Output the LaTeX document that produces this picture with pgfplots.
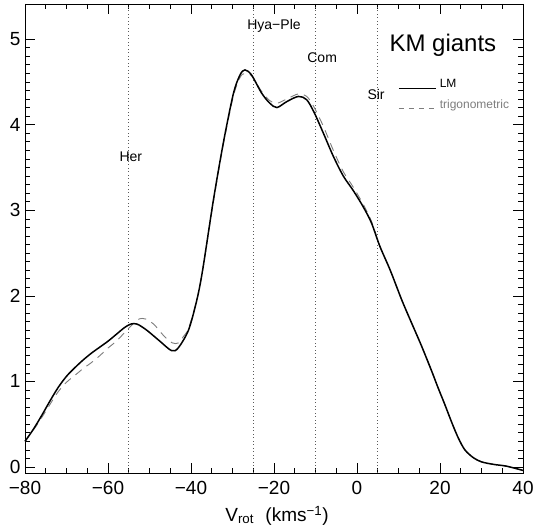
\documentclass[border=0pt]{standalone}
\usepackage{fontspec}
\setmainfont{Liberation Sans}
\usepackage{pgfplots}
\pgfplotsset{compat=1.18}
\definecolor{trig}{RGB}{125,125,125}
\definecolor{dotc}{RGB}{90,90,90}
\begin{document}
\begin{tikzpicture}
\begin{axis}[
  scale only axis, width=498pt, height=469pt,
  xmin=-80, xmax=40, ymin=-0.07, ymax=5.41,
  xtick={-80,-60,-40,-20,0,20,40},
  xticklabels={−80,−60,−40,−20,0,20,40},
  ytick={0,1,2,3,4,5},
  yticklabels={0,1,2,3,4,5},
  minor x tick num=3, minor y tick num=9,
  tick align=inside, major tick length=10pt, minor tick length=5pt,
  tick style={black, line width=0.6pt},
  axis line style={line width=0.8pt},
  tick label style={font=\fontsize{19}{19}\selectfont},
  xticklabel style={yshift=-5pt},
  yticklabel style={xshift=-1pt},
  xlabel={V\textsubscript{rot}\hspace{0.6em}(kms\textsuperscript{−1})},
  xlabel style={font=\fontsize{19}{19}\selectfont, yshift=-4pt, xshift=3pt},
  clip=false,
]
\coordinate (ll) at (rel axis cs:0,0);
\coordinate (ur) at (rel axis cs:1,1);
% dotted reference lines
\addplot[dotc, line width=0.9pt, dash pattern=on 0.9pt off 2.6pt] coordinates {(-55,-0.07) (-55,5.41)};
\addplot[dotc, line width=0.9pt, dash pattern=on 0.9pt off 2.6pt] coordinates {(-25,-0.07) (-25,5.41)};
\addplot[dotc, line width=0.9pt, dash pattern=on 0.9pt off 2.6pt] coordinates {(-10,-0.07) (-10,5.41)};
\addplot[dotc, line width=0.9pt, dash pattern=on 0.9pt off 2.6pt] coordinates {(5,-0.07) (5,5.41)};
% trigonometric (dashed)
\addplot[trig, line width=0.9pt, dash pattern=on 8pt off 6pt, smooth, tension=0.5] coordinates {
(-80,0.30) (-77,0.50) (-74,0.73) (-72,0.88) (-70,0.99) (-68,1.07) (-66,1.15)
(-64,1.22) (-62,1.30) (-60,1.39) (-58,1.47) (-56,1.57) (-54,1.67) (-52.5,1.73)
(-51,1.73) (-49,1.67) (-46.5,1.53) (-44.5,1.45) (-43,1.45)
(-41.9,1.52) (-40.6,1.62) (-38.6,1.95) (-37.2,2.30) (-34.6,3.10) (-32.2,3.77)
(-29.8,4.33) (-28.2,4.55) (-27,4.60) (-25.4,4.57) (-23,4.39) (-21,4.28) (-19.3,4.25)
(-16.9,4.30) (-14.1,4.36) (-12.1,4.33) (-10.3,4.20) (-8.1,3.98) (-5.7,3.70)
(-3.3,3.45) (-0.9,3.27) (1.5,3.07) (3.5,2.87) (5.5,2.58) (8,2.30) (10.8,1.95)
(13,1.70) (15.5,1.42) (18,1.12) (19.5,0.93) (21,0.75) (23,0.50) (24.5,0.33)
(26,0.20) (28,0.11) (30,0.06) (33,0.03) (36,0.01) (40,-0.04)};
% LM (solid)
\addplot[black, line width=1.5pt, smooth, tension=0.5] coordinates {
(-80,0.30) (-78,0.44) (-76,0.60) (-74,0.77) (-72,0.93) (-70,1.06) (-68,1.16)
(-66,1.25) (-64,1.33) (-62,1.40) (-60,1.47) (-58,1.55) (-56,1.63) (-54.5,1.67)
(-53,1.67) (-50.7,1.60) (-47.5,1.47)
(-44.7,1.36) (-43.1,1.39) (-40.6,1.60) (-38.6,1.95) (-37.2,2.30) (-34.6,3.12)
(-32.2,3.79) (-29.8,4.36) (-28.2,4.58) (-27,4.64) (-25.4,4.58) (-23,4.37) (-21,4.25)
(-19.3,4.20) (-16.9,4.27) (-14.1,4.33) (-12.1,4.29) (-10.3,4.14) (-8.1,3.90)
(-5.7,3.63) (-3.3,3.40) (-0.9,3.23) (1.5,3.04) (3.5,2.85) (5.5,2.58) (8,2.30)
(10.8,1.95) (13,1.70) (15.5,1.42) (18,1.12) (19.5,0.93) (21,0.75) (23,0.50)
(24.5,0.33) (26,0.20) (28,0.11) (30,0.06) (33,0.03) (36,0.01) (40,-0.04)};
% labels
\node[font=\fontsize{14}{14}\selectfont] at (axis cs:-54.5,3.62) {Her};
\node[font=\fontsize{14}{14}\selectfont] at (axis cs:-20,5.16) {Hya−Ple};
\node[font=\fontsize{14}{14}\selectfont] at (axis cs:-8.4,4.78) {Com};
\node[font=\fontsize{14}{14}\selectfont] at (axis cs:4.6,4.35) {Sir};
\node[font=\fontsize{24}{24}\selectfont] at (axis cs:20.7,4.93) {KM giants};
% legend
\addplot[black, line width=1.5pt] coordinates {(10.1,4.42) (19,4.42)};
\node[anchor=west, font=\fontsize{12}{12}\selectfont, inner sep=0pt] at (axis cs:19.9,4.48) {LM};
\addplot[trig, line width=0.9pt, dash pattern=on 5pt off 5pt] coordinates {(10.1,4.19) (19,4.19)};
\node[anchor=west, font=\fontsize{12}{12}\selectfont, inner sep=0pt, text=trig] at (axis cs:19.9,4.22) {trigonometric};
\end{axis}
\pgfresetboundingbox
\path[use as bounding box] ([shift={(-25pt,-58pt)}]ll) rectangle ([shift={(11pt,4pt)}]ur);
\end{tikzpicture}
\end{document}
